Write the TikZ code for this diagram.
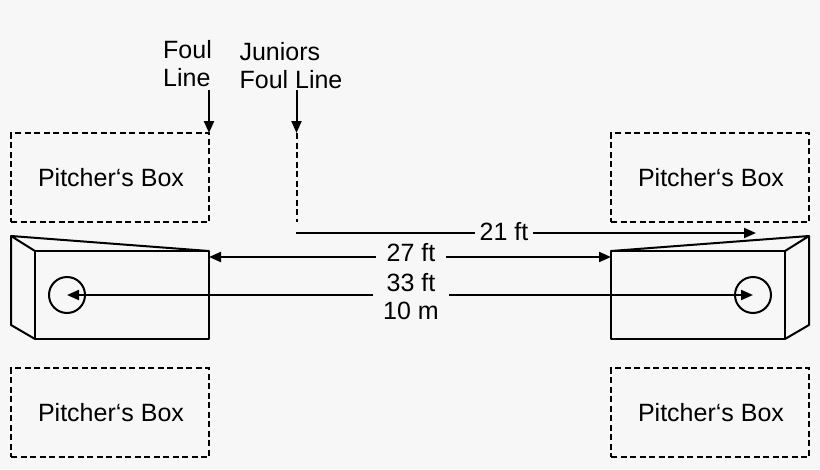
\documentclass[tikz,border=0pt]{standalone}
\usepackage{fontspec}
\setmainfont{Liberation Sans}
\usetikzlibrary{arrows.meta}
\definecolor{paper}{HTML}{F7F7F7}
\newcommand{\boxtext}{\hspace*{2pt}Pitcher‘s Box}

\begin{document}
\begin{tikzpicture}[x=1pt,y=-1pt,->,>={Triangle[length=12pt,width=10pt]},line width=2pt,
  box node/.style={draw,-,minimum width=198pt,minimum height=89pt,inner sep=0pt,
    dash pattern=on 6pt off 3.5pt,font=\fontsize{25}{28}\selectfont},
  label node/.style={inner sep=0pt,align=left,font=\fontsize{25}{28}\selectfont},
  gap node/.style={fill=paper,inner ysep=2pt,inner xsep=11pt,align=center,font=\fontsize{25}{28}\selectfont},
  block/.style={draw,-,line join=round},
  pitch/.style={draw,-,circle,minimum size=36pt,inner sep=0pt}]

  \fill[paper] (0,0) rectangle (820,469);
  \useasboundingbox (0,0) rectangle (820,469);

  % pitcher's boxes
  \node[box node]  (tl) at (110,177.5) {\boxtext};
  \node[box node]  (bl) at (110,412.5) {\boxtext};
  \node[box node]  (tr) at (710,177.5) {\boxtext};
  \node[box node]  (br) at (710,412.5) {\boxtext};

  % blocks
  \draw[block] (35,251) rectangle (209,339);
  \draw[block] (209,251) -- (11,236) -- (35,251);
  \draw[block] (11,236) -- (11,325) -- (35,339);
  \draw[block] (611,251) rectangle (785,339);
  \draw[block] (611,251) -- (809,236) -- (785,251);
  \draw[block] (809,236) -- (809,325) -- (785,339);

  \node[pitch] (c1) at (67,295) {};
  \node[pitch] (c2) at (753,295) {};

  % foul lines
  \node[label node] (foul) at (187.5,64) {Foul\\Line};
  \node[label node] (jun) at (291,66) {Juniors\\Foul Line};
  \coordinate (f1) at (209,90);
  \coordinate (f2) at (209,133);
  \coordinate (j1) at (296.5,90);
  \coordinate (j2) at (296.5,133);
  \coordinate (j3) at (296.5,222);
  \coordinate (j4) at (296,233);
  \coordinate (j5) at (756,233);
  \coordinate (a1) at (209,257);
  \coordinate (a2) at (611,257);

  \path (f1) edge (f2)
        (j1) edge (j2);
  \draw[-,dash pattern=on 6pt off 3.5pt] (j2) -- (j3);

  % distances
  \path (j4) edge (j5);
  \path (a1) edge[<->] (a2);
  \path (c1.center) edge[<->] (c2.center);
  \node[gap node,inner xsep=5pt] (d21) at (504,232) {21 ft};
  \node[gap node] (d27) at (411,253) {27 ft};
  \node[gap node,inner xsep=10pt] (d33) at (411,297) {33 ft\\10 m};

\end{tikzpicture}
\end{document}
